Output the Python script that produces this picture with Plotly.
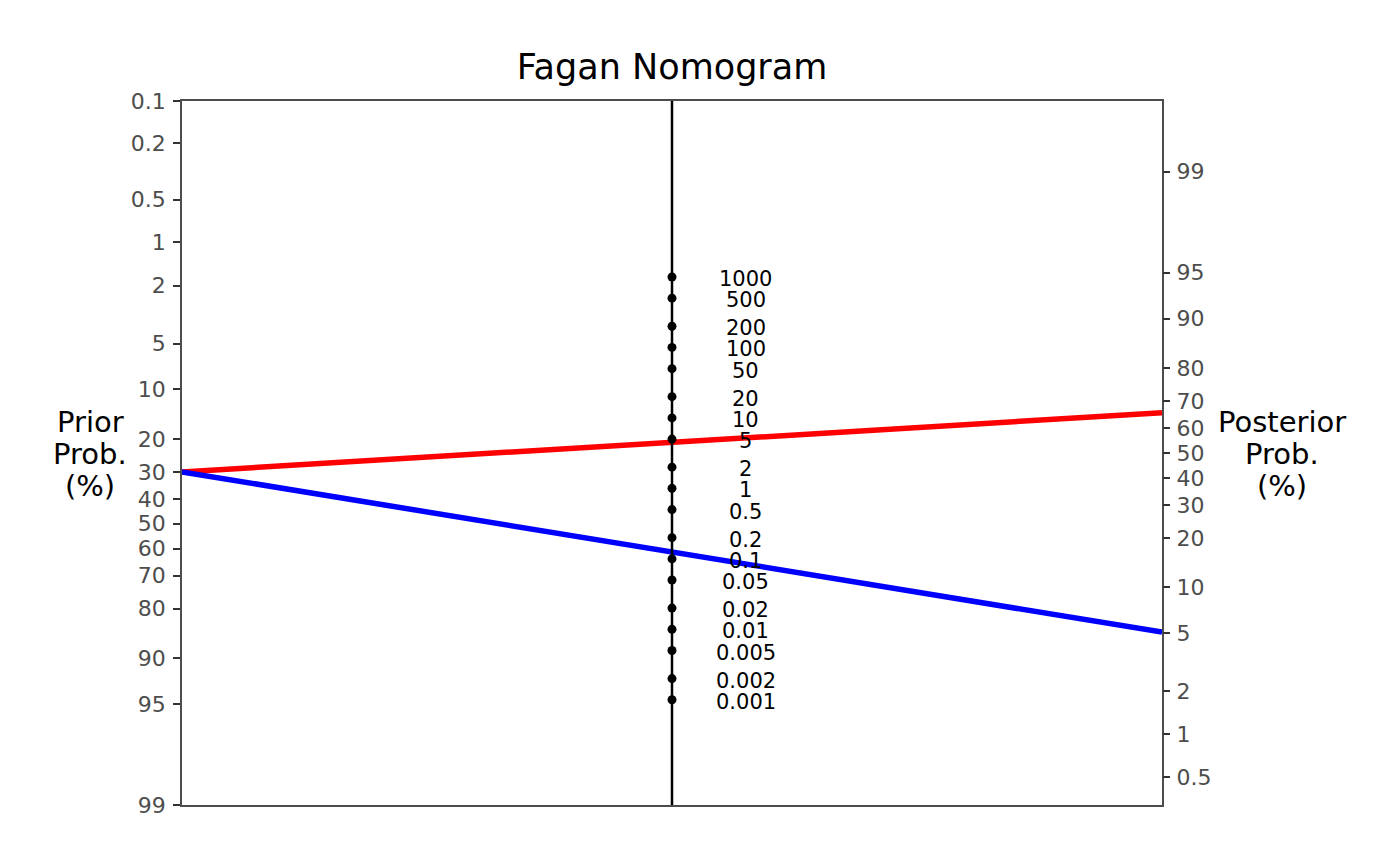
import numpy as np
import plotly.graph_objects as go

# ---- data ----
prob_ticks = [0.001, 0.002, 0.005, 0.01, 0.02, 0.05, 0.1, 0.2, 0.3,
              0.4, 0.5, 0.6, 0.7, 0.8, 0.9, 0.95, 0.99]
prob_labels = ["0.1", "0.2", "0.5", "1", "2", "5", "10", "20", "30",
               "40", "50", "60", "70", "80", "90", "95", "99"]
lr_ticks = [0.001, 0.002, 0.005, 0.01, 0.02, 0.05, 0.1, 0.2, 0.5, 1,
            2, 5, 10, 20, 50, 100, 200, 500, 1000]
lr_labels = ["0.001", "0.002", "0.005", "0.01", "0.02", "0.05", "0.1", "0.2",
             "0.5", "1", "2", "5", "10", "20", "50", "100", "200", "500", "1000"]
prior_prob = 0.30
pos_lr = 4.5
neg_lr = 0.125


def logit(p):
    p = np.asarray(p, dtype=float)
    return np.log(p / (1 - p))


lo = logit(prob_ticks)
adj_min, adj_max = lo.min(), lo.max()
half = (adj_max - adj_min) / 2
sf = abs(adj_min) - half

left_y = -lo - sf
mask = (lo >= -half - 1e-9) & (lo <= half + 1e-9)
right_y = lo[mask]
right_labels = [l for l, m in zip(prob_labels, mask) if m]
lr_y = (np.log(lr_ticks) - sf) / 2

prior_y = float(-logit(prior_prob) - sf)
post_pos_y = float(logit(prior_prob) + np.log(pos_lr))
post_neg_y = float(logit(prior_prob) + np.log(neg_lr))

FONT = "DejaVu Sans"
fig = go.Figure()

fig.add_trace(go.Scatter(x=[-1, 1], y=[prior_y, post_pos_y], mode="lines",
                         line=dict(color="#FF0000", width=5.5), hoverinfo="skip",
                         showlegend=False))
fig.add_trace(go.Scatter(x=[-1, 1], y=[prior_y, post_neg_y], mode="lines",
                         line=dict(color="#0000FF", width=5.5), hoverinfo="skip",
                         showlegend=False))
fig.add_trace(go.Scatter(x=[0, 0], y=[-half, half], mode="lines",
                         line=dict(color="black", width=2.5), hoverinfo="skip",
                         showlegend=False))
fig.add_trace(go.Scatter(x=[0] * len(lr_y), y=lr_y, mode="markers",
                         marker=dict(color="black", size=9), showlegend=False))
# LR labels drawn as annotations so they can be nudged in pixels
for yv, lab in zip(lr_y, lr_labels):
    fig.add_annotation(x=0.15, y=yv, text=lab, showarrow=False,
                       xanchor="center", yanchor="middle", yshift=-2,
                       font=dict(family=FONT, size=21, color="black"))
# invisible trace to activate the right axis
fig.add_trace(go.Scatter(x=[0], y=[0], yaxis="y2", mode="markers",
                         marker=dict(opacity=0), showlegend=False,
                         hoverinfo="skip"))

# page has an 8px body margin; figure sized to fit the 1400x866 window
W, H = 1384, 850
OFF = 8
PL, PR, PT, PB = 182, 1162, 101, 805   # plot area in window pixels

axis_line = "#4D4D4D"
fig.update_layout(
    width=W, height=H,
    margin=dict(l=PL - OFF, r=W - (PR - OFF), t=PT - OFF, b=H - (PB - OFF)),
    paper_bgcolor="white", plot_bgcolor="white",
    font=dict(family=FONT),
    title=dict(text="Fagan Nomogram", x=0.5, xref="paper", xanchor="center",
               y=1 - (67 - OFF) / H, yref="container", yanchor="middle",
               font=dict(family=FONT, size=35, color="black")),
    xaxis=dict(range=[-1, 1], showgrid=False, zeroline=False,
               showticklabels=False, ticks="", showline=True, mirror=True,
               linecolor=axis_line, linewidth=1.5, fixedrange=True),
    yaxis=dict(range=[-half, half], tickmode="array", tickvals=left_y,
               ticktext=prob_labels, ticks="outside", ticklen=7, tickwidth=2,
               tickcolor="#333333", showgrid=False, zeroline=False,
               showline=True, mirror=True, linecolor=axis_line, linewidth=1.5,
               tickfont=dict(family=FONT, size=22, color="#4D4D4D"),
               ticklabelstandoff=3),
    yaxis2=dict(range=[-half, half], overlaying="y", side="right",
                tickmode="array", tickvals=right_y, ticktext=right_labels,
                ticks="outside", ticklen=7, tickwidth=2, tickcolor="#333333",
                showgrid=False, zeroline=False, showline=False,
                tickfont=dict(family=FONT, size=22, color="#4D4D4D"),
                ticklabelstandoff=2),
)


def px_to_paper_x(xpx):
    return (xpx - PL) / (PR - PL)


def px_to_paper_y(ypx):
    return (PB - ypx) / (PB - PT)


for lines, xpx in [(["Prior", "Prob.", "(%)"], 90),
                   (["Posterior", "Prob.", "(%)"], 1282)]:
    for t, ypx in zip(lines, [422, 454, 486]):
        fig.add_annotation(text=t, x=px_to_paper_x(xpx), y=px_to_paper_y(ypx),
                           xref="paper", yref="paper", showarrow=False,
                           xanchor="center", yanchor="middle",
                           font=dict(family=FONT, size=29, color="black"))

fig.write_html("out.html")
